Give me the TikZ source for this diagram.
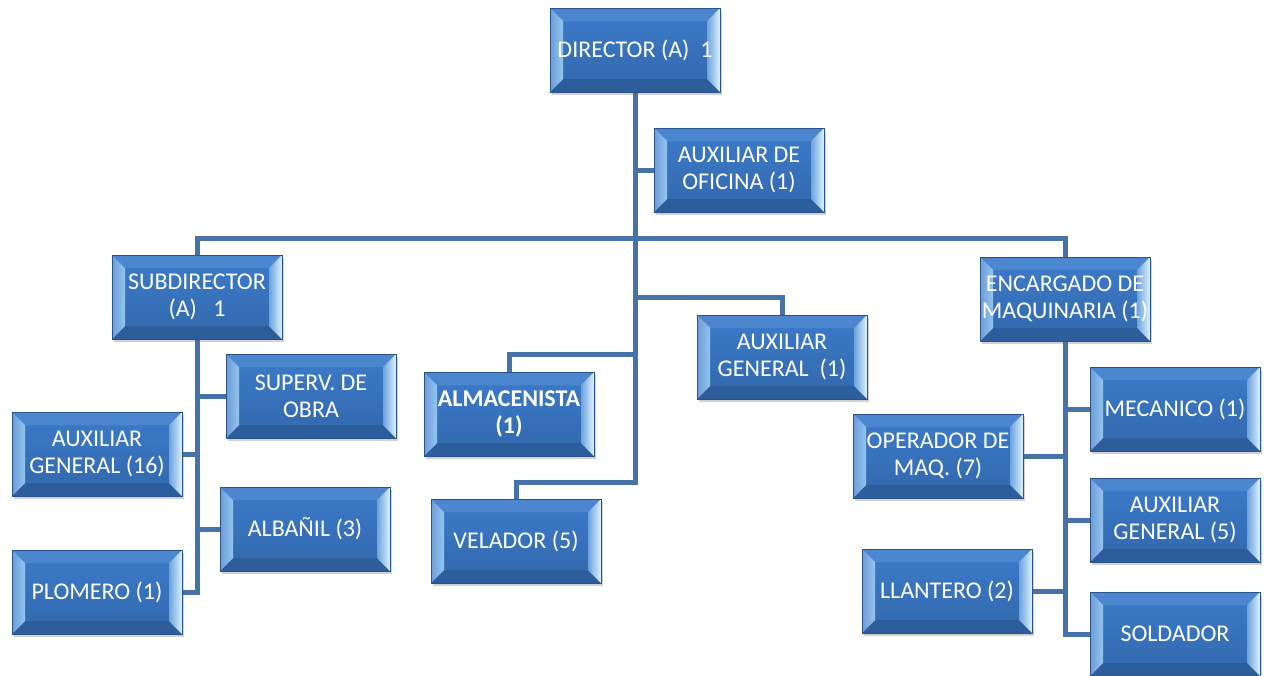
\documentclass[tikz,border=0pt]{standalone}
\usepackage{fontspec}
\setmainfont{Carlito}
\usepackage{tikz}
\usetikzlibrary{calc,shadows,backgrounds}
\definecolor{boxblue}{RGB}{60,123,202}
\definecolor{boxdark}{RGB}{50,104,172}
\definecolor{boxedge}{RGB}{40,84,140}
\definecolor{bevlight}{RGB}{178,222,252}
\definecolor{linecol}{RGB}{70,114,168}
\tikzset{
  puesto/.style={rectangle,draw=boxedge,line width=0.8pt,top color=boxblue,bottom color=boxdark,
    minimum width=170pt,minimum height=84pt,inner sep=0pt,align=center,text=white,
    font=\fontsize{24}{27}\selectfont,
    drop shadow={shadow xshift=2pt,shadow yshift=-3pt,opacity=0.3,fill=black!60},
    path picture={
      \coordinate (sw) at (path picture bounding box.south west);
      \coordinate (ne) at (path picture bounding box.north east);
      \coordinate (nw) at (path picture bounding box.north west);
      \coordinate (se) at (path picture bounding box.south east);
      % bisel superior e inferior
      \fill[boxblue!92!white] (nw) -- (ne) -- ($(ne)+(-13pt,-13pt)$) -- ($(nw)+(13pt,-13pt)$) -- cycle;
      \fill[boxdark!90!black] (sw) -- (se) -- ($(se)+(-13pt,13pt)$) -- ($(sw)+(13pt,13pt)$) -- cycle;
      % bisel izquierdo y derecho
      \shade[left color=boxblue!75!white,right color=bevlight!75!boxblue]
        (nw) -- ($(nw)+(13pt,-13pt)$) -- ($(sw)+(13pt,13pt)$) -- (sw) -- cycle;
      \shade[left color=boxblue!60!bevlight,right color=bevlight!40!white]
        (ne) -- ($(ne)+(-13pt,-13pt)$) -- ($(se)+(-13pt,13pt)$) -- (se) -- cycle;
    }},
  enlace/.style={draw=linecol,line width=5pt,line cap=rect}
}
\begin{document}
\begin{tikzpicture}[x=1pt,y=-1pt]
\useasboundingbox (0,0) rectangle (1264,675);
\node[puesto] (dir) at (635,50) {DIRECTOR (A)~~1};
\node[puesto] (ofi) at (739,170) {AUXILIAR DE\\OFICINA (1)};
\node[puesto] (sub) at (197,297) {SUBDIRECTOR\\(A)~~~1};
\node[puesto] (sup) at (311,396) {SUPERV. DE\\OBRA};
\node[puesto] (aux16) at (97,454) {AUXILIAR\\GENERAL (16)};
\node[puesto] (alb) at (305,529) {ALBAÑIL (3)};
\node[puesto] (plo) at (97,592) {PLOMERO (1)};
\node[puesto,font=\fontsize{24}{27}\selectfont\bfseries] (alm) at (509,414) {ALMACENISTA\\(1)};
\node[puesto] (vel) at (516,541) {VELADOR (5)};
\node[puesto] (aux1) at (782,357) {AUXILIAR\\GENERAL~~(1)};
\node[puesto] (enc) at (1065,299) {ENCARGADO DE\\MAQUINARIA (1)};
\node[puesto] (mec) at (1175,409) {MECANICO (1)};
\node[puesto] (ope) at (938,456) {OPERADOR DE\\MAQ. (7)};
\node[puesto] (aux5) at (1175,520) {AUXILIAR\\GENERAL (5)};
\node[puesto] (lla) at (947,591) {LLANTERO (2)};
\node[puesto] (sol) at (1175,634) {SOLDADOR};
\coordinate (bus) at (635,238);
\coordinate (ramaAux) at (635,297);
\coordinate (ramaAlm) at (635,354);
\coordinate (finDir) at (635,482);
% conectores detras de las cajas
\begin{scope}[on background layer]
\draw[enlace] (dir.south) -- (finDir);
\draw[enlace] (ofi.west) -- (ofi.west -| dir.south);
\draw[enlace] (sub.north) |- (bus) -| (enc.north);
\draw[enlace] (aux1.north) |- (ramaAux);
\draw[enlace] (alm.north) |- (ramaAlm);
\draw[enlace] (vel.north) |- (finDir);
% subdirector
\draw[enlace] (sub.south) |- (plo.east);
\draw[enlace] (sup.west) -- (sup.west -| sub.south);
\draw[enlace] (aux16.east) -- (aux16.east -| sub.south);
\draw[enlace] (alb.west) -- (alb.west -| sub.south);
% encargado
\draw[enlace] (enc.south) |- (sol.west);
\draw[enlace] (mec.west) -- (mec.west -| enc.south);
\draw[enlace] (ope.east) -- (ope.east -| enc.south);
\draw[enlace] (aux5.west) -- (aux5.west -| enc.south);
\draw[enlace] (lla.east) -- (lla.east -| enc.south);
\end{scope}
\end{tikzpicture}
\end{document}
